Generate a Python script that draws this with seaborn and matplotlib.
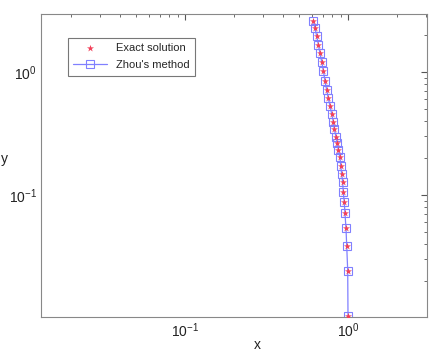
import matplotlib
matplotlib.use("Agg")
import matplotlib.pyplot as plt
import seaborn as sns
import pandas as pd
import numpy as np

x_vals = [0.612, 0.628, 0.643, 0.658, 0.673, 0.690, 0.706, 0.722, 0.740, 0.757,
          0.776, 0.794, 0.813, 0.824, 0.844, 0.860, 0.873, 0.893, 0.902, 0.914,
          0.927, 0.935, 0.948, 0.958, 0.972, 0.982, 0.996, 1.000]
y_exact = [2.61, 2.27, 1.94, 1.66, 1.42, 1.21, 1.02, 0.85, 0.714, 0.611,
           0.529, 0.456, 0.394, 0.342, 0.298, 0.263, 0.232, 0.202, 0.173, 0.148,
           0.128, 0.106, 0.0883, 0.071, 0.0536, 0.0385, 0.0243, 0.0103]
y_zhou = list(y_exact)

sns.set_style("white")
plt.rcParams['font.family'] = ['Liberation Sans', 'DejaVu Sans']

fig = plt.figure(figsize=(4.37, 3.52), dpi=100)
ax = fig.add_axes([0.094, 0.0994, 0.883, 0.8606])

df = pd.DataFrame({"x": x_vals, "exact": y_exact, "zhou": y_zhou})

blue = (0.5, 0.5, 1.0)
sns.lineplot(data=df, x="x", y="zhou", ax=ax, color=blue, lw=0.9,
             marker="s", markersize=5.5, markerfacecolor="none",
             markeredgecolor=blue, markeredgewidth=0.8,
             label="Zhou's method", sort=False, zorder=2)
sns.scatterplot(data=df, x="x", y="exact", ax=ax, marker="*", s=28,
                color=(0.95, 0.25, 0.35), linewidth=0,
                label="Exact solution", zorder=3)

ax.set_xscale("log")
ax.set_yscale("log")
ax.set_xlim(0.0131, 3.05)
ax.set_ylim(0.0102, 2.95)

for s in ax.spines.values():
    s.set_color("#888888")
    s.set_linewidth(0.8)
ax.tick_params(which="both", direction="in", top=True, right=True,
               colors="#555555", labelcolor="#222222", labelsize=10)
ax.tick_params(which="major", length=4, pad=3)
ax.tick_params(which="minor", length=2)
ax.minorticks_on()

ax.set_xlabel("x", fontsize=10, color="#222222")
ax.xaxis.set_label_coords(0.56, -0.068)
ax.set_ylabel("y", fontsize=10, color="#222222", rotation=0)
ax.yaxis.set_label_coords(-0.095, 0.50)

h, l = ax.get_legend_handles_labels()
order = [1, 0]
leg = ax.legend([h[i] for i in order], [l[i] for i in order],
                loc="upper left", bbox_to_anchor=(0.055, 0.94), fontsize=8,
                frameon=True, fancybox=False, edgecolor="#555555",
                handlelength=3.0, borderpad=0.5, labelspacing=0.6)
leg.get_frame().set_linewidth(0.8)

fig.savefig("out.png", dpi=100)
